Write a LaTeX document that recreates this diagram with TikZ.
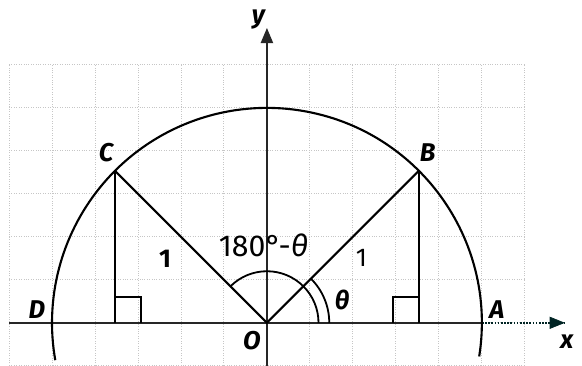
\documentclass[tikz,border=0pt]{standalone}
\usepackage{fontspec}
\setmainfont{Fira Sans}
\usetikzlibrary{arrows.meta,calc}
\begin{document}
\begin{tikzpicture}[x=1cm,y=1cm,
  gridline/.style={gray!45, line width=0.6pt, densely dotted},
  curve/.style={black, line width=1.4pt},
  thin curve/.style={black, line width=1.2pt},
  axisline/.style={black!85, line width=1.3pt},
  lbl/.style={font=\fontsize{17}{20}\selectfont\bfseries\itshape, inner sep=0pt},
  num/.style={font=\fontsize{17}{20}\selectfont, inner sep=0pt},
  tip/.style={-{Triangle[length=10pt,width=8pt]}},
 ]
\useasboundingbox (-6.21,-1.0) rectangle (7.33,7.51);
\draw[gridline] (-6,-1) grid (6,6);
% points
\coordinate (O) at (0,0);
\coordinate (A) at (5,0);
\coordinate (D) at (-5,0);
\coordinate (B) at (45:5);
\coordinate (C) at (135:5);
\coordinate (Bf) at (B |- O);
\coordinate (Cf) at (C |- O);
\coordinate (xl) at (-6,0);
\coordinate (xr) at (6.93,0);
\coordinate (yb) at (0,-1);
\coordinate (yt) at (0,6.86);
% axes
\draw[axisline] (xl) -- (A);
\draw[black!60!teal!70!black, line width=1.1pt, densely dotted] (A) -- (xr);
\draw[black!60!teal!70!black, tip] ($(xr)+(-0.05,0)$) -- (xr);
\draw[axisline, tip] (yb) -- (yt);
% circle
\draw[curve] (-9:5) arc[start angle=-9, end angle=190, radius=5];
% radii and perpendiculars
\draw[curve] (C) -- (O) -- (B);
\draw[thin curve] (B) -- (Bf);
\draw[thin curve] (C) -- (Cf);
% right angle marks
\draw[thin curve] (Bf) ++(-0.6,0) -- ++(0,0.6) -- ++(0.6,0);
\draw[thin curve] (Cf) ++(0.6,0) -- ++(0,0.6) -- ++(-0.6,0);
% angle arcs
\draw[thin curve] (1.2,0) arc[start angle=0, end angle=135, radius=1.2];
\draw[thin curve] (1.45,0) arc[start angle=0, end angle=45, radius=1.45];
% labels
\node[lbl] (lA) at (5.35,0.3) {A};
\node[lbl] (lD) at (-5.35,0.3) {D};
\node[lbl] (lB) at (3.74,3.95) {B};
\node[lbl] (lC) at (-3.74,3.97) {C};
\node[lbl] (lO) at (-0.35,-0.42) {O};
\node[lbl] (lx) at (6.98,-0.45) {x};
\node[lbl] (ly) at (-0.2,7.05) {y};
\node[num] (one1) at (-2.37,1.5) {\bfseries 1};
\node[num] (one2) at (2.2,1.52) {1};
\node[num, font=\fontsize{20}{24}\selectfont] (ang) at (-0.08,1.8) {180°-\textit{θ}};
\node[lbl] (th) at (1.75,0.53) {θ};
\end{tikzpicture}
\end{document}
